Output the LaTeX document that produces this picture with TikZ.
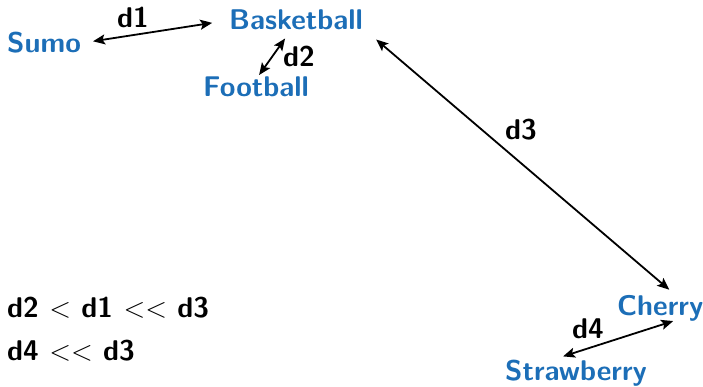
\documentclass[tikz,border=0pt]{standalone}
\usepackage{fix-cm}
\usepackage{tikz}
\usetikzlibrary{arrows.meta}

\definecolor{itemblue}{RGB}{28,110,183}

\tikzset{
  word/.style={anchor=base west,inner sep=0pt,text=itemblue,font=\sffamily\bfseries\fontsize{28.5}{34}\selectfont},
  lbl/.style={anchor=base west,inner sep=0pt,font=\sffamily\bfseries\fontsize{28.5}{34}\selectfont},
  dist/.style={line width=1.8pt,{Stealth[length=12pt,width=10pt,inset=2.5pt]}-{Stealth[length=12pt,width=10pt,inset=2.5pt]}}
}

\begin{document}
\begin{tikzpicture}[x=1pt,y=-1pt]
\useasboundingbox (0,0) rectangle (703,387);

% items
\node[word] (sumo) at (7,53) {Sumo};
\node[word] (basket) at (229,30) {Basketball};
\node[word] (football) at (203,97) {Football};
\node[word] (cherry) at (617,315) {Cherry};
\node[word] (straw) at (505,380) {Strawberry};

% distances
\draw[dist] (sumo.east) -- (basket.west) [shorten <=12pt, shorten >=17pt];
\draw[dist] ([xshift=3pt,yshift=2pt]football.north) -- ([xshift=-11pt,yshift=-8pt]basket.south);
\draw[dist] ([xshift=13pt,yshift=-9pt]basket.south east) -- ([xshift=9pt,yshift=5pt]cherry.north);
\draw[dist] ([xshift=-13pt,yshift=3pt]straw.north) -- ([xshift=13pt]cherry.south);

% labels
\node[lbl] (d1) at (117,28) {d1};
\node[lbl] (d2) at (283,67) {d2};
\node[lbl] (d3) at (505,140) {d3};
\node[lbl] (d4) at (572,338) {d4};

% order
\node[lbl] (ord1) at (7,317) {d2 $<$ d1 $<<$ d3};
\node[lbl] (ord2) at (7,360) {d4 $<<$ d3};

\end{tikzpicture}
\end{document}
